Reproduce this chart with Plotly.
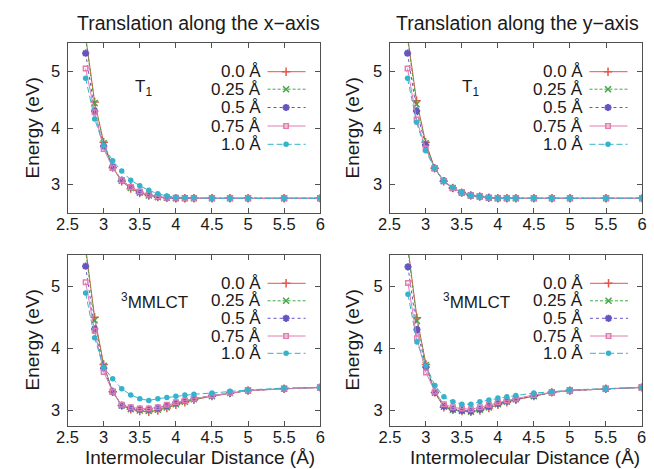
import plotly.graph_objects as go

# ---------------- data ----------------
x_dist = [2.75, 2.875, 3.0, 3.125, 3.25, 3.375, 3.5, 3.625, 3.75, 3.875,
          4.0, 4.125, 4.25, 4.5, 4.75, 5.0, 5.5, 6.0]
offset_labels = ["0.0 Å", "0.25 Å", "0.5 Å", "0.75 Å", "1.0 Å"]

# T1, translation along x
t1x_00 = [5.62, 4.46, 3.75, 3.30, 3.06, 2.93, 2.85, 2.81, 2.78, 2.77, 2.76, 2.76, 2.76, 2.76, 2.76, 2.76, 2.76, 2.76]
t1x_25 = [5.58, 4.44, 3.73, 3.30, 3.07, 2.94, 2.86, 2.81, 2.78, 2.77, 2.76, 2.76, 2.76, 2.76, 2.76, 2.76, 2.76, 2.76]
t1x_50 = [5.32, 4.30, 3.68, 3.31, 3.08, 2.96, 2.87, 2.82, 2.79, 2.77, 2.76, 2.76, 2.76, 2.76, 2.76, 2.76, 2.76, 2.76]
t1x_75 = [5.05, 4.28, 3.63, 3.30, 3.08, 2.96, 2.88, 2.82, 2.79, 2.77, 2.77, 2.76, 2.76, 2.76, 2.76, 2.76, 2.76, 2.76]
t1x_100 = [4.88, 4.16, 3.69, 3.42, 3.24, 3.08, 2.98, 2.90, 2.84, 2.80, 2.78, 2.77, 2.77, 2.76, 2.76, 2.76, 2.76, 2.76]

# T1, translation along y
t1y_00 = [5.62, 4.48, 3.75, 3.29, 3.06, 2.94, 2.86, 2.81, 2.79, 2.77, 2.76, 2.76, 2.76, 2.76, 2.76, 2.76, 2.76, 2.76]
t1y_25 = [5.58, 4.42, 3.73, 3.29, 3.06, 2.94, 2.86, 2.81, 2.79, 2.77, 2.76, 2.76, 2.76, 2.76, 2.76, 2.76, 2.76, 2.76]
t1y_50 = [5.32, 4.30, 3.70, 3.29, 3.07, 2.94, 2.86, 2.81, 2.79, 2.77, 2.76, 2.76, 2.76, 2.76, 2.76, 2.76, 2.76, 2.76]
t1y_75 = [5.05, 4.15, 3.64, 3.29, 3.07, 2.94, 2.86, 2.81, 2.79, 2.77, 2.76, 2.76, 2.76, 2.76, 2.76, 2.76, 2.76, 2.76]
t1y_100 = [4.88, 4.10, 3.60, 3.29, 3.07, 2.95, 2.86, 2.81, 2.79, 2.77, 2.76, 2.76, 2.76, 2.76, 2.76, 2.76, 2.76, 2.76]

# 3MMLCT, translation along x
mx_00 = [5.62, 4.50, 3.74, 3.30, 3.08, 3.02, 2.99, 2.98, 3.00, 3.04, 3.09, 3.13, 3.17, 3.23, 3.28, 3.32, 3.35, 3.37]
mx_25 = [5.58, 4.45, 3.72, 3.30, 3.08, 3.02, 3.00, 2.99, 3.01, 3.05, 3.10, 3.14, 3.18, 3.23, 3.28, 3.32, 3.35, 3.37]
mx_50 = [5.32, 4.31, 3.68, 3.30, 3.08, 3.04, 3.02, 3.02, 3.04, 3.08, 3.12, 3.16, 3.19, 3.24, 3.28, 3.32, 3.35, 3.37]
mx_75 = [5.06, 4.28, 3.62, 3.30, 3.09, 3.05, 3.03, 3.03, 3.05, 3.09, 3.13, 3.16, 3.19, 3.24, 3.28, 3.32, 3.35, 3.37]
mx_100 = [4.89, 4.17, 3.69, 3.51, 3.35, 3.25, 3.19, 3.16, 3.19, 3.21, 3.23, 3.25, 3.26, 3.28, 3.31, 3.33, 3.36, 3.37]

# 3MMLCT, translation along y
my_00 = [5.62, 4.49, 3.74, 3.29, 3.05, 3.01, 2.99, 2.98, 3.00, 3.04, 3.09, 3.13, 3.17, 3.23, 3.29, 3.32, 3.35, 3.37]
my_25 = [5.58, 4.44, 3.73, 3.29, 3.06, 3.01, 2.99, 2.98, 3.01, 3.05, 3.10, 3.14, 3.18, 3.23, 3.29, 3.32, 3.35, 3.37]
my_50 = [5.31, 4.30, 3.70, 3.29, 3.07, 3.02, 3.00, 2.99, 3.02, 3.07, 3.11, 3.15, 3.18, 3.24, 3.29, 3.32, 3.35, 3.37]
my_75 = [5.05, 4.16, 3.61, 3.30, 3.10, 3.05, 3.03, 3.02, 3.05, 3.09, 3.13, 3.16, 3.19, 3.25, 3.29, 3.32, 3.35, 3.37]
my_100 = [4.87, 4.10, 3.72, 3.40, 3.22, 3.14, 3.10, 3.10, 3.14, 3.17, 3.20, 3.22, 3.24, 3.28, 3.30, 3.33, 3.35, 3.37]

x_tickvals = [2.5, 3, 3.5, 4, 4.5, 5, 5.5, 6]
x_ticktext = ["2.5", "3", "3.5", "4", "4.5", "5", "5.5", "6"]
y_tickvals = [3, 4, 5]
y_ticktext = ["3", "4", "5"]

panel_titles = ["Translation along the x\u2212axis", "Translation along the y\u2212axis"]
state_labels = ["T<sub>1</sub>", "<sup>3</sup>MMLCT"]
x_title = "Intermolecular Distance (Å)"
y_title = "Energy (eV)"

# ---------------- styles ----------------
W, H = 654, 469
FONT = "Liberation Sans, Arial, sans-serif"
TXT = "#1a1a1a"
AX = "#505050"

styles = [
    dict(color="#e5554a", dash="solid", symbol="cross-thin", size=6, mlw=1.5),
    dict(color="#45a845", dash="3px,2px", symbol="x-thin", size=6, mlw=1.5),
    dict(color="#6456c2", dash="dot", symbol="asterisk-open", size=6, mlw=2.0),
    dict(color="#e27db0", dash="solid", symbol="square-open", size=4.5, mlw=1.5),
    dict(color="#35b3cc", dash="6px,3px", symbol="circle", size=5.5, mlw=0),
]

# panel frames in pixels: left, right, top, bottom
frames = [
    (58, 317, 43, 213),
    (388, 647, 43, 213),
    (58, 317, 255, 426),
    (388.5, 646.5, 255, 426),
]
yranges = [[2.5, 5.5], [2.5, 5.5], [2.75, 5.5], [2.75, 5.5]]
panel_series = [
    [t1x_00, t1x_25, t1x_50, t1x_75, t1x_100],
    [t1y_00, t1y_25, t1y_50, t1y_75, t1y_100],
    [mx_00, mx_25, mx_50, mx_75, mx_100],
    [my_00, my_25, my_50, my_75, my_100],
]
legend_rows = [
    [28.7, 46.2, 64.5, 83, 101.3],
    [28.7, 46.2, 64.5, 83, 101.3],
    [28.3, 45.8, 63.3, 81, 98.3],
    [28.3, 45.8, 63.3, 81, 98.3],
]
label_x = [3.55, 3.62, 3.70, 3.70]
label_y = [4.70, 4.70, 4.76, 4.76]

fig = go.Figure()
layout = dict(
    width=W, height=H, margin=dict(l=0, r=0, t=0, b=0),
    paper_bgcolor="white", plot_bgcolor="rgba(0,0,0,0)",
    showlegend=False, font=dict(family=FONT, size=17, color=TXT),
)
annotations = []

for i, (l, r, t, b) in enumerate(frames):
    k = "" if i == 0 else str(i + 1)
    xd = [l / W, r / W]
    yd = [1 - b / H, 1 - t / H]
    common = dict(showline=True, linecolor=AX, linewidth=1, mirror="ticks",
                  ticks="inside", ticklen=5, tickwidth=1, tickcolor=AX,
                  showgrid=False, zeroline=False, fixedrange=True,
                  tickfont=dict(family=FONT, size=16.5, color=TXT))
    layout["xaxis" + k] = dict(domain=xd, anchor="y" + k, range=[2.5, 6],
                               tickvals=x_tickvals, ticktext=x_ticktext,
                               ticklabelstandoff=-4, **common)
    layout["yaxis" + k] = dict(domain=yd, anchor="x" + k, range=yranges[i],
                               tickvals=y_tickvals, ticktext=y_ticktext,
                               ticklabelstandoff=3, **common)
    for s, ys in enumerate(panel_series[i]):
        st = styles[s]
        fig.add_trace(go.Scatter(
            x=x_dist, y=ys, xaxis="x" + k, yaxis="y" + k, mode="lines+markers",
            name=offset_labels[s],
            line=dict(color=st["color"], width=1, dash=st["dash"]),
            marker=dict(symbol=st["symbol"], size=st["size"], color=st["color"],
                        line=dict(color=st["color"], width=st["mlw"])),
        ))
    # state label
    annotations.append(dict(
        text=state_labels[i // 2], xref="x" + k, yref="y" + k,
        x=label_x[i], y=label_y[i],
        showarrow=False, font=dict(family=FONT, size=17, color=TXT)))
    # key (legend) drawn gnuplot style: text left, sample right
    for s, row in enumerate(legend_rows[i]):
        st = styles[s]
        yy = t + row
        annotations.append(dict(
            text=offset_labels[s], xref="x5", yref="y5", x=l + 200, y=yy,
            xanchor="right", yanchor="middle", showarrow=False,
            font=dict(family=FONT, size=17, color=TXT)))
        fig.add_trace(go.Scatter(
            x=[l + 205, l + 244], y=[yy, yy], xaxis="x5", yaxis="y5",
            mode="lines", line=dict(color=st["color"], width=1, dash=st["dash"]),
            hoverinfo="skip"))
        fig.add_trace(go.Scatter(
            x=[l + 224], y=[yy], xaxis="x5", yaxis="y5", mode="markers",
            marker=dict(symbol=st["symbol"], size=st["size"], color=st["color"],
                        line=dict(color=st["color"], width=st["mlw"])),
            hoverinfo="skip"))

# overlay pixel axis for the keys and titles
layout["xaxis5"] = dict(domain=[0, 1], anchor="y5", range=[0, W], visible=False,
                        fixedrange=True)
layout["yaxis5"] = dict(domain=[0, 1], anchor="x5", range=[H, 0], visible=False,
                        fixedrange=True)

for j, cx in enumerate([192, 519]):
    annotations.append(dict(text=panel_titles[j], xref="x5", yref="y5", x=cx, y=23,
                            showarrow=False, font=dict(family=FONT, size=19.5, color=TXT)))
for cx in [194, 527]:
    annotations.append(dict(text=x_title, xref="x5", yref="y5", x=cx, y=457.5,
                            showarrow=False, font=dict(family=FONT, size=19, color=TXT)))
for cx in [22, 350]:
    for cy in [128, 340]:
        annotations.append(dict(text=y_title, xref="x5", yref="y5", x=cx, y=cy,
                                textangle=-90, showarrow=False,
                                font=dict(family=FONT, size=19, color=TXT)))

layout["annotations"] = annotations
fig.update_layout(**layout)
fig.write_html("out.html")
